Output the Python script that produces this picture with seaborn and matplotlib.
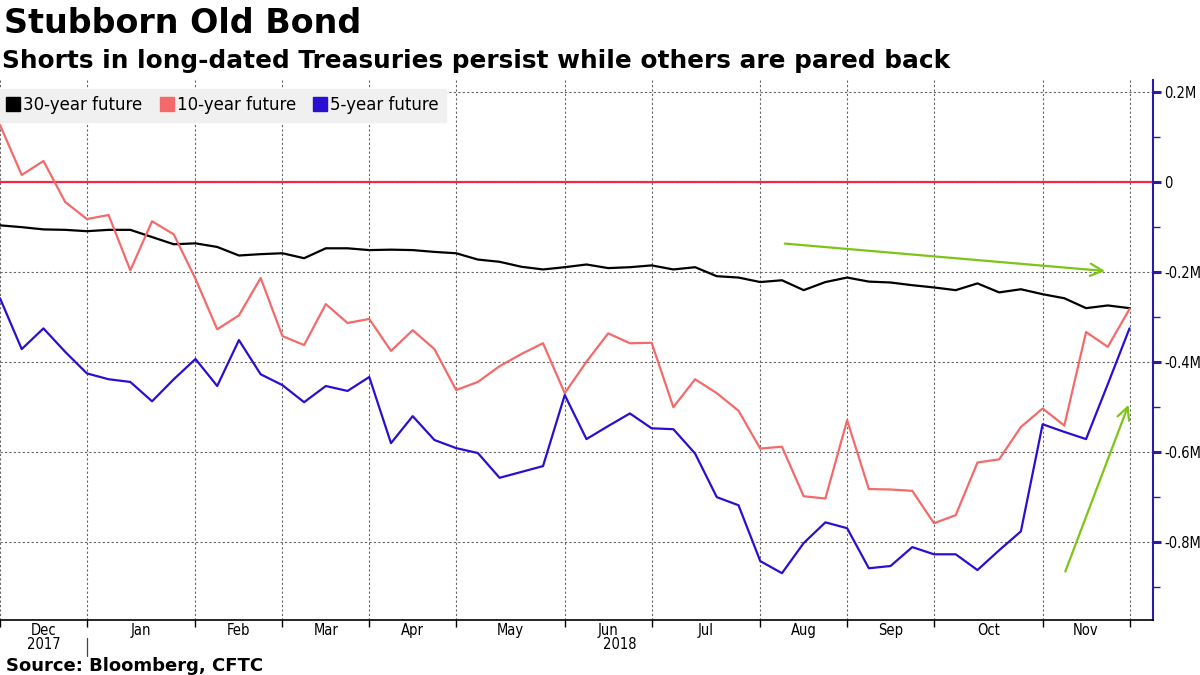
import pandas as pd
import matplotlib
matplotlib.use("Agg")
import matplotlib.pyplot as plt
import seaborn as sns
from matplotlib.lines import Line2D
from matplotlib.ticker import FuncFormatter, MultipleLocator
import matplotlib.transforms as mtransforms

# weekly CFTC report dates (Tuesdays), Dec 2017 - Dec 2018
dates = pd.date_range("2017-12-05", periods=53, freq="7D")

# net positions, thousands of contracts
thirty_yr = [-96, -100, -105, -106, -109, -106, -106, -122, -138, -136, -144, -163, -160,
             -158, -169, -147, -147, -151, -150, -151, -155, -158, -172, -177, -188, -194,
             -189, -183, -191, -189, -185, -194, -189, -209, -212, -222, -218, -240, -222,
             -212, -221, -223, -229, -234, -240, -225, -245, -238, -249, -258, -280, -274, -280]
ten_yr = [127, 16, 47, -44, -82, -73, -196, -87, -116, -215, -327, -296, -213,
          -342, -362, -271, -313, -304, -375, -329, -371, -462, -444, -409, -382, -358,
          -469, -399, -336, -358, -357, -500, -438, -469, -508, -592, -588, -698, -703,
          -529, -682, -683, -686, -758, -740, -623, -616, -544, -503, -541, -333, -366, -282]
five_yr = [-258, -371, -325, -377, -425, -438, -444, -487, -438, -393, -453, -351, -427,
           -451, -489, -453, -464, -433, -580, -520, -573, -591, -602, -657, -644, -631,
           -473, -571, -542, -514, -547, -549, -603, -700, -718, -842, -869, -802, -756,
           -769, -858, -853, -811, -827, -827, -862, -818, -776, -538, -555, -571, -449, -325]

series_names = ["30-year future", "10-year future", "5-year future"]
colors = {"30-year future": "#000000", "10-year future": "#f46a6a", "5-year future": "#2a0fd0"}

df = pd.DataFrame({"idx": range(len(dates)), "date": dates,
                   "30-year future": thirty_yr, "10-year future": ten_yr, "5-year future": five_yr})
long_df = df.melt(id_vars=["idx", "date"], value_vars=series_names, var_name="series", value_name="pos")

sns.set_style("white")
plt.rcParams["font.family"] = ["DejaVu Sans"]
plt.rcParams["text.color"] = "black"

fig = plt.figure(figsize=(12, 6.75), dpi=100)
ax = fig.add_axes([0.0, 1 - 620 / 675, 1153 / 1200, (620 - 80) / 675])

# zero line
ax.axhline(0, color="#ee2a48", lw=1.6, zorder=2)

sns.lineplot(data=long_df, x="idx", y="pos", hue="series", hue_order=series_names,
             palette=colors, lw=1.6, legend=False, ax=ax, zorder=3)

x_right = (len(dates) - 1) * 1153 / 1129.5
ax.set_xlim(0, x_right)
ax.set_ylim(-973, 227)

# month ticks at first report of each month
first_idx = df.groupby([df["date"].dt.year, df["date"].dt.month])["idx"].min().sort_values().tolist()
ax.set_xticks(first_idx)
ax.set_xticklabels([])
ax.tick_params(axis="x", direction="out", length=5, width=1, color="black", bottom=True)

small = dict(fontsize=10.5, fontstretch="condensed", color="black")
month_names = ["Dec", "Jan", "Feb", "Mar", "Apr", "May", "Jun", "Jul", "Aug", "Sep", "Oct", "Nov"]
trans = mtransforms.blended_transform_factory(ax.transData, ax.transAxes)
for i, name in enumerate(month_names):
    mid = (first_idx[i] + first_idx[i + 1]) / 2
    ax.text(mid, -0.006, name, transform=trans, ha="center", va="top", **small)

# year labels and separator
ax.text((0 + first_idx[1]) / 2, -0.031, "2017", transform=trans, ha="center", va="top", **small)
ax.text((first_idx[1] + x_right) / 2, -0.031, "2018", transform=trans, ha="center", va="top", **small)
ax.plot([first_idx[1], first_idx[1]], [-0.033, -0.066], transform=trans, color="#444444", lw=0.9, clip_on=False)

# right axis
ax.yaxis.tick_right()
ax.yaxis.set_major_locator(MultipleLocator(200))
ax.yaxis.set_minor_locator(MultipleLocator(100))
ax.yaxis.set_major_formatter(FuncFormatter(lambda v, p: "0" if abs(v) < 1e-9 else f"{v / 1000:g}M"))
ax.tick_params(axis="y", which="major", direction="out", length=6, width=2.2, color="#2a1aa8",
               labelsize=10.5, labelcolor="black", pad=2)
ax.tick_params(axis="y", which="minor", direction="out", length=5, width=1, color="#2a1aa8")
for lab in ax.get_yticklabels():
    lab.set_fontstretch("condensed")

for side in ["left", "top"]:
    ax.spines[side].set_visible(False)
ax.spines["right"].set_color("#2a1aa8")
ax.spines["right"].set_linewidth(1.5)
ax.spines["bottom"].set_color("black")
ax.spines["bottom"].set_linewidth(1.2)

ax.grid(True, which="major", linestyle=(0, (2, 2)), color="#666666", lw=0.8)
ax.set_xlabel("")
ax.set_ylabel("")

# arrows
green = "#7cc516"
ax.annotate("", xy=(51.0, -198), xytext=(36.0, -136),
            arrowprops=dict(arrowstyle="->", color=green, lw=1.6, mutation_scale=22))
ax.annotate("", xy=(52.0, -489), xytext=(49.0, -871),
            arrowprops=dict(arrowstyle="->", color=green, lw=1.6, mutation_scale=22))

# legend
handles = [Line2D([], [], marker="s", linestyle="", markersize=10, color=colors[s]) for s in series_names]
leg = ax.legend(handles, series_names, loc="upper left", bbox_to_anchor=(0, 0.984), ncol=3,
                frameon=True, fancybox=False, framealpha=1, facecolor="#f0f0f0", edgecolor="#f0f0f0",
                fontsize=12, handlelength=0.7, handletextpad=0.25, columnspacing=1.1,
                borderaxespad=0, borderpad=0.45)

fig.text(0.003, 0.99, "Stubborn Old Bond", fontsize=24, fontweight="bold", ha="left", va="top")
fig.text(0.002, 0.927, "Shorts in long-dated Treasuries persist while others are pared back",
         fontsize=17.8, fontweight="bold", ha="left", va="top")
fig.text(0.005, 0.014, "Source: Bloomberg, CFTC", fontsize=13, fontweight="bold", ha="left", va="center")

fig.savefig("out.png", dpi=100)
